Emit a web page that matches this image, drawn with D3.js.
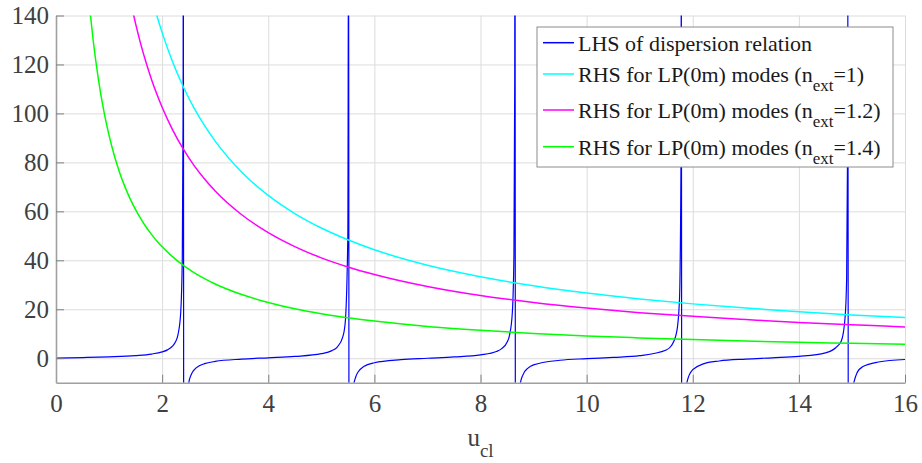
<!DOCTYPE html>
<html>
<head>
<meta charset="utf-8">
<script src="https://cdn.jsdelivr.net/npm/d3@7"></script>
<style>
  body { margin: 0; background: #fff; }
  svg text { font-family: "Liberation Serif", "Times New Roman", serif; }
</style>
</head>
<body>
<svg width="922" height="463"></svg>
<script>
// LHS of the dispersion relation (poles near the J0 zeros)
const lhsU = [0, 0.5, 1.0, 1.5, 1.8, 2.0, 2.1, 2.2, 2.25, 2.3, 2.35, 2.38, 2.395, 2.4,
  2.41, 2.42, 2.45, 2.5, 2.55, 2.6, 2.7, 2.8, 3.0, 3.5, 4.0, 4.5, 5.0, 5.2, 5.3, 5.4, 5.45, 5.5, 5.515,
  5.525, 5.53, 5.55, 5.6, 5.65, 5.7, 5.8, 6.0, 6.5, 7.0, 7.5, 8.0, 8.3, 8.4, 8.5, 8.55, 8.6, 8.63, 8.645, 8.65,
  8.66, 8.67, 8.7, 8.75, 8.8, 8.9, 9.0, 9.5, 10.0, 10.5, 11.0, 11.5, 11.6, 11.7, 11.75, 11.78, 11.785,
  11.795, 11.81, 11.85, 11.9, 12.0, 12.2, 12.5, 13.0, 13.5, 14.0, 14.5, 14.7, 14.8, 14.87, 14.9, 14.92, 14.925,
  14.935, 14.94, 14.96, 15.0, 15.1, 15.2, 15.5, 16.0];
const lhsVal = [0, 0.26, 0.58, 1.09, 1.71, 2.58, 3.41, 5.04, 6.61, 9.73, 18.6, 40.7, 100, 208,
  -192, -66, -22, -10.3, -6.66, -4.86, -3.10, -2.22, -1.30, -0.36, 0.17, 0.72, 1.85, 3.11, 4.56, 8.38, 14.4, 50.2, 200,
  -200, -100, -33.3, -12.4, -7.57, -5.41, -3.39, -1.84, -0.59, -0.02, 0.51, 1.37, 2.76, 3.92, 6.52, 9.65, 18.7, 42, 113, 250,
  -170, -63, -21.7, -10.4, -6.79, -3.95, -2.72, -0.83, -0.18, 0.33, 1.03, 3.37, 5.2, 11.1, 24, 87, 200,
  -190, -50, -16.7, -9.08, -4.68, -2.33, -1.13, -0.34, 0.18, 0.78, 2.21, 4.4, 7.0, 16.4, 32.4, 92, 170,
  -237, -109, -34, -14.4, -5.78, -3.51, -1.53, -0.52];

// RHS curves for LP(0m) modes
const rhsU = [0.6, 0.65, 0.7, 0.8, 0.9, 1.0, 1.1, 1.2, 1.3, 1.4, 1.5, 1.6, 1.7, 1.8, 1.9, 2.0, 2.2, 2.4, 2.6, 2.8,
  3.0, 3.5, 4, 4.5, 5, 5.5, 6, 7, 8, 9, 10, 11, 12, 13, 14, 15, 16];
const rhsN10 = [443, 409, 380, 333, 296, 266, 242, 222, 205, 190, 177, 166, 156.5, 147.8, 140.0, 133.0, 120.9, 110.8, 102.3, 95.0,
  88.7, 76.0, 66.5, 59.1, 53.2, 48.4, 44.3, 38.0, 33.3, 29.6, 26.6, 24.2, 22.2, 20.5, 19.0, 17.7, 16.6];
const rhsN12 = [342, 315, 293, 256, 228, 205, 186, 171, 158, 146.4, 136.7, 128.1, 120.6, 113.9, 107.9, 102.5, 93.2, 85.4, 78.8, 73.2,
  68.3, 58.6, 51.3, 45.6, 41.0, 37.3, 34.2, 29.3, 25.6, 22.8, 20.5, 18.6, 17.1, 15.8, 14.6, 13.7, 12.8];
const rhsN14 = [151.7, 140.0, 130.0, 113.8, 101.1, 91.0, 82.7, 75.8, 70.0, 65.0, 60.7, 56.9, 53.5, 50.6, 47.9, 45.5, 41.4, 37.9, 35.0, 32.5,
  30.3, 26.0, 22.8, 20.2, 18.2, 16.5, 15.2, 13.0, 11.4, 10.1, 9.1, 8.3, 7.6, 7.0, 6.5, 6.1, 5.7];

const xTicks = [0, 2, 4, 6, 8, 10, 12, 14, 16];
const yTicks = [0, 20, 40, 60, 80, 100, 120, 140];

const legendItems = [
  { color: "#0000ff", main: "LHS of dispersion relation" },
  { color: "#00ffff", main: "RHS for LP(0m) modes (n", sub: "ext", tail: "=1)" },
  { color: "#ff00ff", main: "RHS for LP(0m) modes (n", sub: "ext", tail: "=1.2)" },
  { color: "#00ff00", main: "RHS for LP(0m) modes (n", sub: "ext", tail: "=1.4)" }
];

const pLeft = 56, pRight = 905, pTop = 15.5, pBottom = 382.7;

const x = d3.scaleLinear().domain([0, 16]).range([pLeft, pRight]);
const y = d3.scaleLinear().domain([-10, 140]).range([pBottom, pTop]);

const svg = d3.select("svg");

// grid
svg.append("g")
  .attr("transform", "translate(0," + pBottom + ")")
  .call(d3.axisBottom(x).tickValues(xTicks).tickSize(-(pBottom - pTop)).tickFormat(""))
  .call(g => g.select(".domain").remove())
  .call(g => g.selectAll("line").attr("stroke", "#dcdcdc"));

svg.append("g")
  .attr("transform", "translate(" + pLeft + ",0)")
  .call(d3.axisLeft(y).tickValues(yTicks).tickSize(-(pRight - pLeft)).tickFormat(""))
  .call(g => g.select(".domain").remove())
  .call(g => g.selectAll("line").attr("stroke", "#dcdcdc"));

// clip for the curves
svg.append("clipPath").attr("id", "plot")
  .append("rect")
  .attr("x", pLeft).attr("y", pTop)
  .attr("width", pRight - pLeft).attr("height", pBottom - pTop);

const plot = svg.append("g").attr("clip-path", "url(#plot)");

const line = d3.line()
  .x(d => x(d[0]))
  .y(d => y(d[1]))
  .curve(d3.curveMonotoneX);

const series = [
  { vals: rhsN10, color: "#00ffff" },
  { vals: rhsN12, color: "#ff00ff" },
  { vals: rhsN14, color: "#00ff00" }
];

plot.append("path")
  .datum(lhsU.map((u, i) => [u, lhsVal[i]]))
  .attr("d", line)
  .attr("fill", "none")
  .attr("stroke", "#0000ff")
  .attr("stroke-width", 1.2);

series.forEach(s => {
  plot.append("path")
    .datum(rhsU.map((u, i) => [u, s.vals[i]]))
    .attr("d", line)
    .attr("fill", "none")
    .attr("stroke", s.color)
    .attr("stroke-width", 1.5);
});

// axes
const xAxis = svg.append("g")
  .attr("transform", "translate(0," + pBottom + ")")
  .call(d3.axisBottom(x).tickValues(xTicks).tickSize(-8).tickPadding(12).tickSizeOuter(0));
const yAxis = svg.append("g")
  .attr("transform", "translate(" + pLeft + ",0)")
  .call(d3.axisLeft(y).tickValues(yTicks).tickSize(-8).tickPadding(7).tickSizeOuter(0));

[xAxis, yAxis].forEach(g => {
  g.attr("font-family", "Liberation Serif").attr("font-size", 25);
  g.select(".domain").attr("stroke", "#a0a0a0").attr("stroke-width", 1.6);
  g.selectAll(".tick line").attr("stroke", "#808080");
  g.selectAll(".tick text").attr("fill", "#404040").attr("font-size", 25);
});

// x label
const xl = svg.append("text")
  .attr("x", (pLeft + pRight) / 2)
  .attr("y", 446)
  .attr("text-anchor", "middle")
  .attr("fill", "#404040")
  .attr("font-size", 25);
xl.append("tspan").text("u");
xl.append("tspan").attr("dy", 11).attr("font-size", 19).text("cl");

// legend
const lg = svg.append("g");
lg.append("rect")
  .attr("x", 537).attr("y", 27)
  .attr("width", 356).attr("height", 140)
  .attr("fill", "#fff")
  .attr("stroke", "#8c8c8c")
  .attr("stroke-width", 1);

const rowY = [42.7, 74, 110, 146.7];
legendItems.forEach((d, i) => {
  lg.append("line")
    .attr("x1", 543).attr("x2", 574)
    .attr("y1", rowY[i]).attr("y2", rowY[i])
    .attr("stroke", d.color)
    .attr("stroke-width", 1.5);
  const t = lg.append("text")
    .attr("x", 578)
    .attr("y", rowY[i] + 8)
    .attr("fill", "#1a1a1a")
    .attr("font-size", 22);
  t.append("tspan").text(d.main);
  if (d.sub) {
    t.append("tspan").attr("dy", 9).attr("font-size", 17).text(d.sub);
    t.append("tspan").attr("dy", -9).text(d.tail);
  }
});
</script>
</body>
</html>
